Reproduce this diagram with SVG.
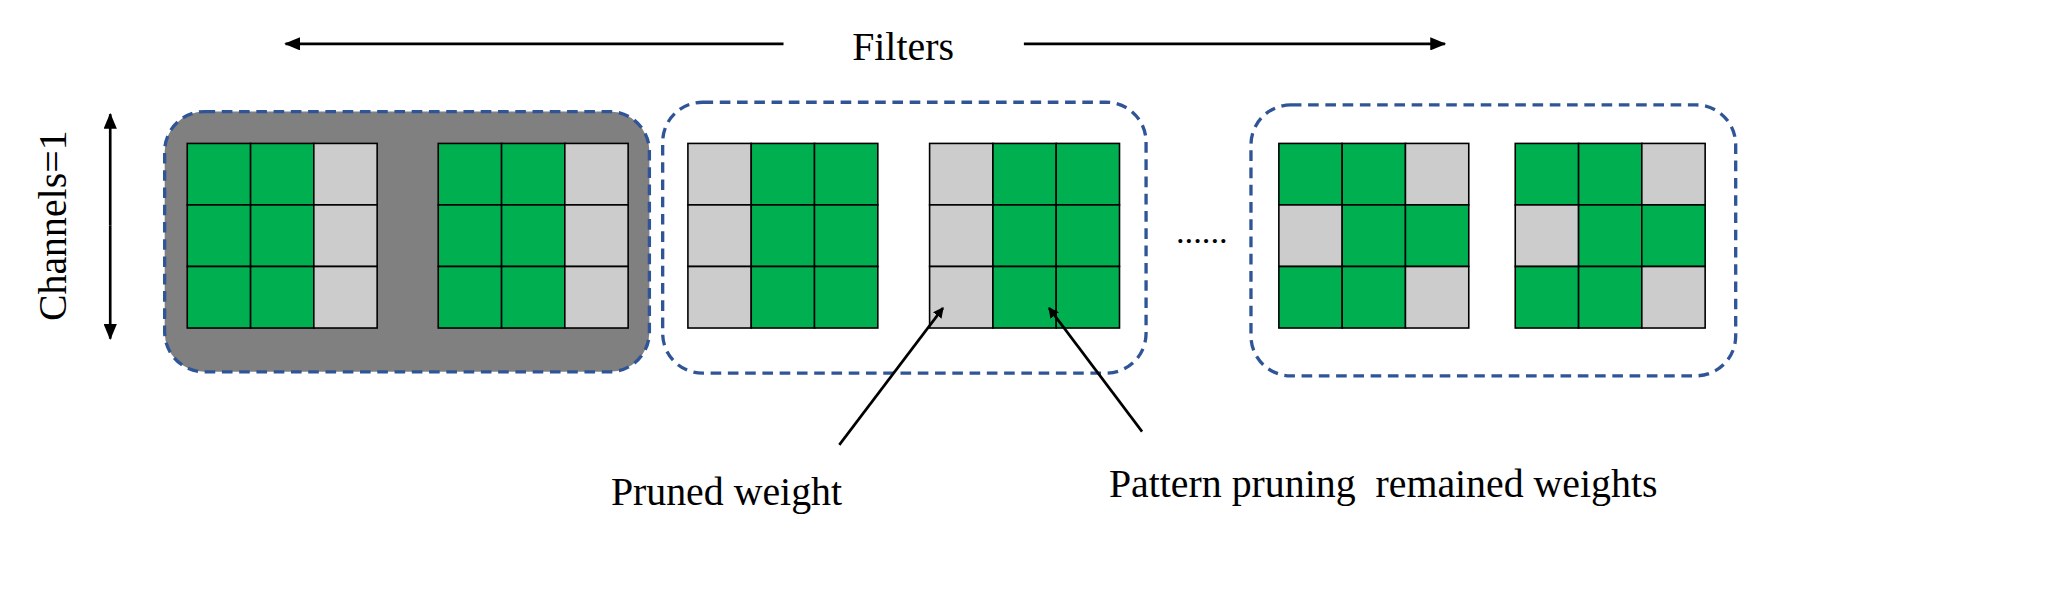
<svg xmlns="http://www.w3.org/2000/svg" width="2072" height="612" viewBox="0 0 2072 612">
<style>
.g{fill:#00B050;stroke:#000;stroke-width:1.2}
.p{fill:#CCCCCC;stroke:#000;stroke-width:1.2}
.box{stroke:#2F5597;stroke-width:2.5;stroke-dasharray:8,5}
.t{font-family:"Liberation Serif",serif;fill:#000}
.l{stroke:#000;stroke-width:2;fill:none}
</style>
<defs>
<marker id="ah" markerWidth="8" markerHeight="8" refX="7" refY="4" orient="auto" markerUnits="userSpaceOnUse"><path d="M0,0 L8,4 L0,8 Z" fill="#000"/></marker>
<marker id="ab" markerWidth="12" markerHeight="10" refX="11" refY="5" orient="auto" markerUnits="userSpaceOnUse"><path d="M0,0 L12,5 L0,10 Z" fill="#000"/></marker>
<g id="A"><rect class="g" x="0" y="0" width="47.7" height="46.3"/><rect class="g" x="47.7" y="0" width="47.7" height="46.3"/><rect class="p" x="95.3" y="0" width="47.7" height="46.3"/></g>
<g id="B"><rect class="p" x="0" y="0" width="47.7" height="46.3"/><rect class="g" x="47.7" y="0" width="47.7" height="46.3"/><rect class="g" x="95.3" y="0" width="47.7" height="46.3"/></g>
</defs>
<rect width="2072" height="612" fill="#fff"/>
<g transform="scale(1.328)">
<g id="filters-label"><text class="t" x="680" y="45" font-size="30" text-anchor="middle">Filters</text></g>
<g id="channels-label"><text class="t" x="0" y="0" font-size="30" text-anchor="middle" transform="translate(50,170) rotate(-90)">Channels=1</text></g>
<g id="group1"><rect class="box" x="124" y="84" width="365" height="196" rx="30" fill="#808080"/>
<use href="#A" x="141" y="108"/><use href="#A" x="141" y="154.3"/><use href="#A" x="141" y="200.7"/>
<use href="#A" x="330" y="108"/><use href="#A" x="330" y="154.3"/><use href="#A" x="330" y="200.7"/></g>
<g id="group2"><rect class="box" x="499" y="77" width="364" height="204" rx="30" fill="none"/>
<use href="#B" x="518" y="108"/><use href="#B" x="518" y="154.3"/><use href="#B" x="518" y="200.7"/>
<use href="#B" x="700" y="108"/><use href="#B" x="700" y="154.3"/><use href="#B" x="700" y="200.7"/></g>
<g id="group3"><rect class="box" x="942" y="79" width="365" height="204" rx="30" fill="none"/>
<use href="#A" x="963" y="108"/><use href="#B" x="963" y="154.3"/><use href="#A" x="963" y="200.7"/>
<use href="#A" x="1141" y="108"/><use href="#B" x="1141" y="154.3"/><use href="#A" x="1141" y="200.7"/></g>
<g id="dots"><text class="t" x="905" y="183" font-size="26" text-anchor="middle">......</text></g>
<g id="label-pruned"><text class="t" x="460" y="380" font-size="30">Pruned weight</text></g>
<g id="label-remained"><text class="t" x="835" y="374" font-size="30" xml:space="preserve">Pattern pruning  remained weights</text></g>
<g id="connectors">
<line class="l" x1="590" y1="33" x2="215" y2="33" stroke-width="3" marker-end="url(#ab)"/>
<line class="l" x1="771" y1="33" x2="1088" y2="33" stroke-width="3" marker-end="url(#ab)"/>
<line class="l" x1="83" y1="170" x2="83" y2="86" stroke-width="2.5" marker-end="url(#ab)"/>
<line class="l" x1="83" y1="170" x2="83" y2="255" stroke-width="2.5" marker-end="url(#ab)"/>
<line class="l" x1="632" y1="335" x2="710" y2="232" marker-end="url(#ah)"/>
<line class="l" x1="860" y1="325" x2="790" y2="232" marker-end="url(#ah)"/>
</g>
</g>
</svg>
